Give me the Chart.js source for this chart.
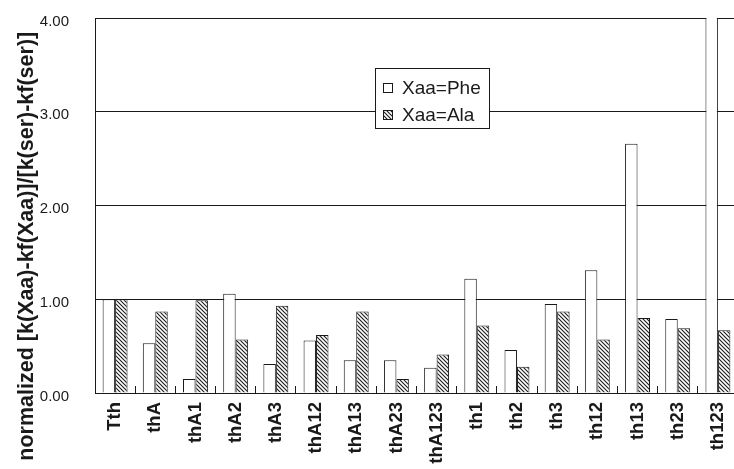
<!DOCTYPE html>
<html>
<head>
<meta charset="utf-8">
<script src="https://cdn.jsdelivr.net/npm/chart.js@4.4.1/dist/chart.umd.min.js"></script>
<style>
  html, body { margin: 0; padding: 0; background: #fff; overflow: hidden; }
  #wrap { position: relative; width: 738px; height: 469px; }
</style>
</head>
<body>
<div id="wrap"><canvas id="c"></canvas></div>
<script>
// Peptide variants on the x axis
const categories = ['Tth', 'thA', 'thA1', 'thA2', 'thA3', 'thA12', 'thA13', 'thA23', 'thA123',
                    'th1', 'th2', 'th3', 'th12', 'th13', 'th23', 'th123'];
// normalized rate ratios, Xaa = Phe (th123 runs past the top of the axis)
const pheValues = [1.00, 0.53, 0.15, 1.06, 0.31, 0.56, 0.35, 0.35, 0.27,
                   1.22, 0.46, 0.95, 1.31, 2.66, 0.79, 4.35];
// normalized rate ratios, Xaa = Ala
const alaValues = [1.00, 0.87, 0.99, 0.57, 0.93, 0.62, 0.87, 0.15, 0.41,
                   0.72, 0.28, 0.87, 0.57, 0.80, 0.69, 0.67];
const seriesNames = ['Xaa=Phe', 'Xaa=Ala'];
const yTickValues = [0, 1, 2, 3, 4];
const yAxisTitle = 'normalized [k(Xaa)-kf(Xaa)]/[k(ser)-kf(ser)]';

const INK = '#1a1a1a';
const FONT = "'Liberation Sans', Arial, sans-serif";

const canvas = document.getElementById('c');
const mainCtx = canvas.getContext('2d');

// diagonal "\" hatching for the Ala bars
function hatchPattern() {
  const t = document.createElement('canvas');
  t.width = 4; t.height = 4;
  const g = t.getContext('2d');
  g.fillStyle = '#fff';
  g.fillRect(0, 0, 4, 4);
  g.strokeStyle = INK;
  g.lineWidth = 1.1;
  g.beginPath();
  g.moveTo(-2, -2); g.lineTo(6, 6);
  g.moveTo(-2, 2);  g.lineTo(2, 6);
  g.moveTo(2, -2);  g.lineTo(6, 2);
  g.stroke();
  return mainCtx.createPattern(t, 'repeat');
}
const hatch = hatchPattern();

// top/right frame of the plot area
const frame = {
  id: 'frame',
  beforeDatasetsDraw(c) {
    const a = c.chartArea, g = c.ctx;
    g.save();
    g.strokeStyle = INK;
    g.lineWidth = 1;
    g.beginPath();
    g.moveTo(a.left, Math.round(a.top) + 0.5);
    g.lineTo(a.right, Math.round(a.top) + 0.5);
    g.moveTo(Math.round(a.right) - 0.5, a.top);
    g.lineTo(Math.round(a.right) - 0.5, a.bottom);
    g.stroke();
    g.restore();
  }
};

// boxed legend sitting inside the plot
const legendBox = {
  id: 'legendBox',
  afterDraw(c) {
    const g = c.ctx;
    const x = 375, y = 68, w = 114, h = 60;
    g.save();
    g.fillStyle = '#fff';
    g.fillRect(x, y, w, h);
    g.strokeStyle = INK;
    g.lineWidth = 1;
    g.strokeRect(x + 0.5, y + 0.5, w, h);
    c.data.datasets.forEach((ds, i) => {
      const sy = y + 15 + i * 27;
      g.fillStyle = ds.backgroundColor;
      g.fillRect(x + 8, sy, 10, 10);
      g.strokeStyle = INK;
      g.strokeRect(x + 8.5, sy + 0.5, 9, 9);
      g.fillStyle = INK;
      g.font = '19px ' + FONT;
      g.textAlign = 'left';
      g.textBaseline = 'middle';
      g.fillText(ds.label, x + 27, sy + 6);
    });
    g.restore();
  }
};

// rotated y-axis title
const yTitle = {
  id: 'yTitle',
  afterDraw(c) {
    const g = c.ctx;
    g.save();
    g.translate(33, c.height * 0.525);
    g.rotate(-Math.PI / 2);
    g.font = 'bold 21.5px ' + FONT;
    g.fillStyle = INK;
    g.textAlign = 'center';
    g.textBaseline = 'alphabetic';
    g.fillText(yAxisTitle, 0, 0);
    g.restore();
  }
};

new Chart(mainCtx, {
  type: 'bar',
  data: {
    labels: categories,
    datasets: [
      { label: seriesNames[0], data: pheValues, backgroundColor: '#ffffff',
        borderColor: INK, borderWidth: 1, clip: 0 },
      { label: seriesNames[1], data: alaValues, backgroundColor: hatch,
        borderColor: INK, borderWidth: 1, clip: 0 }
    ]
  },
  options: {
    responsive: true,
    maintainAspectRatio: false,
    animation: false,
    devicePixelRatio: 1,
    layout: { padding: { left: 39, top: 18, right: 0, bottom: 0 } },
    datasets: { bar: { barPercentage: 1, categoryPercentage: 0.62, borderSkipped: 'bottom' } },
    plugins: { legend: { display: false }, tooltip: { enabled: false } },
    scales: {
      x: {
        afterFit: s => { s.height = 76; s.paddingLeft = 0; s.paddingRight = 0; },
        grid: { display: true, drawOnChartArea: false, drawTicks: true, tickLength: -7,
                color: INK, offset: true },
        border: { display: true, color: INK, width: 1 },
        ticks: { autoSkip: false, minRotation: 90, maxRotation: 90, padding: 16, color: INK,
                 font: { family: FONT, size: 18.5, weight: 'bold' } }
      },
      y: {
        min: 0,
        max: 4,
        afterBuildTicks: s => { s.ticks = yTickValues.map(v => ({ value: v })); },
        afterFit: s => { s.width = 56; s.paddingTop = 0; s.paddingBottom = 0; },
        grid: { color: INK, drawTicks: false },
        border: { display: true, color: INK, width: 1 },
        ticks: { padding: 26, labelOffset: 3.5, color: INK,
                 font: { family: FONT, size: 15 },
                 callback: v => Number(v).toFixed(2) }
      }
    }
  },
  plugins: [frame, legendBox, yTitle]
});
</script>
</body>
</html>
